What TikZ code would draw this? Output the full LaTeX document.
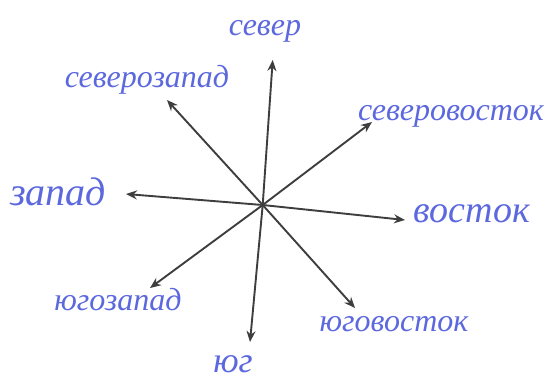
\documentclass[tikz,border=0pt]{standalone}
\usepackage{fontspec}
\setmainfont{Liberation Serif}
\usetikzlibrary{arrows.meta}
\definecolor{ink}{RGB}{92,104,222}
\definecolor{pencil}{RGB}{62,62,62}
\tikzset{
  ray/.style={draw=pencil, line width=1.9pt, -{Stealth[length=11pt,width=9pt]}},
  lbl/.style={text=ink, font=\itshape\fontsize{32}{32}\selectfont, inner sep=0pt, anchor=center}
}
\begin{document}
\begin{tikzpicture}[x=1pt,y=-1pt]
\useasboundingbox (0,0) rectangle (548,381);
\coordinate (c) at (262.7,205);
\coordinate (n) at (272.7,60);
\coordinate (nw) at (167,100);
\coordinate (ne) at (372,122);
\coordinate (w) at (126,194);
\coordinate (e) at (405,220);
\coordinate (sw) at (150,288);
\coordinate (se) at (355,308);
\coordinate (s) at (250,342);
\foreach \d in {n,nw,ne,w,e,sw,se,s} \draw[ray] (c) -- (\d);
\node[lbl] (ln) at (265,31) {север};
\node[lbl] (lnw) at (147,80) {северозапад};
\node[lbl] (lne) at (451,116) {северовосток};
\node[lbl, font=\itshape\fontsize{40}{40}\selectfont] (lw) at (58,192) {запад};
\node[lbl, font=\itshape\fontsize{38}{38}\selectfont] (le) at (472,214) {восток};
\node[lbl] (lsw) at (118,300) {югозапад};
\node[lbl] (lse) at (394,324) {юговосток};
\node[lbl, font=\itshape\fontsize{36}{36}\selectfont] (ls) at (233,364) {юг};
\end{tikzpicture}
\end{document}
